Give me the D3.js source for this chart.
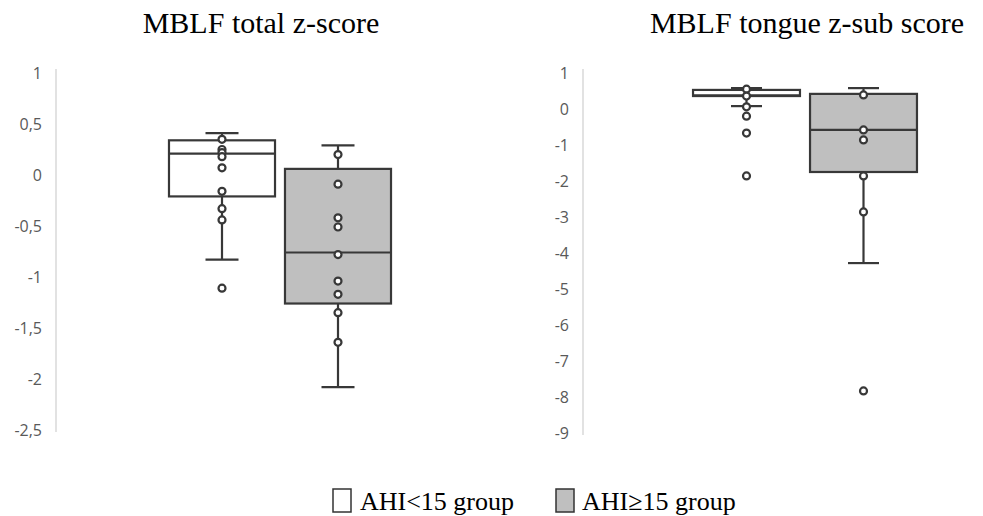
<!DOCTYPE html>
<html>
<head>
<meta charset="utf-8">
<script src="https://cdn.jsdelivr.net/npm/d3@7"></script>
<style>
  body { margin: 0; background: #fff; }
  .title { font-family: "Liberation Serif", "Times New Roman", serif; font-size: 30px; fill: #000; }
  .legend-text { font-family: "Liberation Serif", "Times New Roman", serif; font-size: 26px; fill: #000; }
  .axis text { font-family: "Open Sans", sans-serif; font-size: 16px; fill: #595959; }
</style>
</head>
<body>
<div id="chart"></div>
<script>
var svgWidth = 983;
var svgHeight = 516;

// groups
var groups = ["AHI<15 group", "AHI≥15 group"];
var groupFill = ["#ffffff", "#bfbfbf"];

// panel titles
var titles = ["MBLF total z-score", "MBLF tongue z-sub score"];

// tick labels
var totalTicks = [1, 0.5, 0, -0.5, -1, -1.5, -2, -2.5];
var tongueTicks = [1, 0, -1, -2, -3, -4, -5, -6, -7, -8, -9];

// box stats: [whisker low, q1, median, q3, whisker high]
var totalStats = [
  [-0.83, -0.21, 0.21, 0.34, 0.41],
  [-2.08, -1.26, -0.76, 0.06, 0.29]
];
var totalPoints = [
  [0.35, 0.25, 0.22, 0.18, 0.07, -0.16, -0.33, -0.44, -1.11],
  [0.20, -0.09, -0.42, -0.51, -0.78, -1.04, -1.17, -1.35, -1.64]
];

var tongueStats = [
  [0.08, 0.36, 0.38, 0.53, 0.58],
  [-4.28, -1.75, -0.58, 0.42, 0.58]
];
var tonguePoints = [
  [0.55, 0.36, 0.06, -0.2, -0.67, -1.86],
  [0.39, -0.58, -0.86, -1.86, -2.86, -7.83]
];

var locale = d3.formatLocale({decimal: ",", thousands: ".", grouping: [3], currency: ["", ""], minus: "-"});
var fmt = locale.format("");

var svg = d3.select("#chart")
  .append("svg")
  .attr("width", svgWidth)
  .attr("height", svgHeight);

var panels = [
  {title: titles[0], titleX: 261, ticks: totalTicks, stats: totalStats, points: totalPoints,
   axisX: 56, yRange: [430, 73], xRange: [164, 396], capW: 33},
  {title: titles[1], titleX: 807, ticks: tongueTicks, stats: tongueStats, points: tonguePoints,
   axisX: 583, yRange: [433, 73], xRange: [688, 922], capW: 31}
];

var stroke = "#383838";

panels.forEach(function(p) {
  var yScale = d3.scaleLinear()
    .domain([d3.min(p.ticks), d3.max(p.ticks)])
    .range(p.yRange);

  var xScale = d3.scaleBand()
    .domain(groups)
    .range(p.xRange)
    .paddingInner(0.086)
    .paddingOuter(0.043);

  // title
  svg.append("text")
    .attr("class", "title")
    .attr("x", p.titleX)
    .attr("y", 33)
    .attr("text-anchor", "middle")
    .text(p.title);

  // y axis
  var yAxis = d3.axisLeft(yScale)
    .tickValues(p.ticks)
    .tickFormat(fmt)
    .tickSize(0)
    .tickPadding(14);

  var ax = svg.append("g")
    .attr("class", "axis")
    .attr("transform", `translate(${p.axisX},0)`)
    .call(yAxis);
  ax.select(".domain")
    .attr("d", `M0,${p.yRange[1] - 4}V${p.yRange[0] + 2}`)
    .attr("stroke", "#d9d9d9")
    .attr("stroke-width", 1.5);

  // boxes
  groups.forEach(function(g, i) {
    var s = p.stats[i];
    var x0 = xScale(g);
    var bw = xScale.bandwidth();
    var cx = x0 + bw / 2;
    var grp = svg.append("g");

    // whiskers
    grp.append("line")
      .attr("x1", cx).attr("x2", cx)
      .attr("y1", yScale(s[0])).attr("y2", yScale(s[1]))
      .attr("stroke", stroke).attr("stroke-width", 2.2);
    grp.append("line")
      .attr("x1", cx).attr("x2", cx)
      .attr("y1", yScale(s[3])).attr("y2", yScale(s[4]))
      .attr("stroke", stroke).attr("stroke-width", 2.2);
    [s[0], s[4]].forEach(function(v) {
      grp.append("line")
        .attr("x1", cx - p.capW / 2).attr("x2", cx + p.capW / 2)
        .attr("y1", yScale(v)).attr("y2", yScale(v))
        .attr("stroke", stroke).attr("stroke-width", 2.2);
    });

    // box
    grp.append("rect")
      .attr("x", x0)
      .attr("y", yScale(s[3]))
      .attr("width", bw)
      .attr("height", yScale(s[1]) - yScale(s[3]))
      .attr("fill", groupFill[i])
      .attr("stroke", stroke)
      .attr("stroke-width", 2.2);

    // median
    grp.append("line")
      .attr("x1", x0).attr("x2", x0 + bw)
      .attr("y1", yScale(s[2])).attr("y2", yScale(s[2]))
      .attr("stroke", stroke).attr("stroke-width", 2.2);

    // points
    grp.selectAll("circle")
      .data(p.points[i])
      .enter()
      .append("circle")
      .attr("cx", cx)
      .attr("cy", d => yScale(d))
      .attr("r", 3.5)
      .attr("fill", "#fff")
      .attr("stroke", stroke)
      .attr("stroke-width", 2.2);
  });
});

// legend
var legendItems = [
  {x: 333, textX: 360},
  {x: 556, textX: 582}
];
groups.forEach(function(g, i) {
  svg.append("rect")
    .attr("x", legendItems[i].x)
    .attr("y", 489)
    .attr("width", 18)
    .attr("height", 23)
    .attr("fill", groupFill[i])
    .attr("stroke", "#333")
    .attr("stroke-width", 1.5);
  svg.append("text")
    .attr("class", "legend-text")
    .attr("x", legendItems[i].textX)
    .attr("y", 510)
    .text(g);
});
</script>
</body>
</html>
